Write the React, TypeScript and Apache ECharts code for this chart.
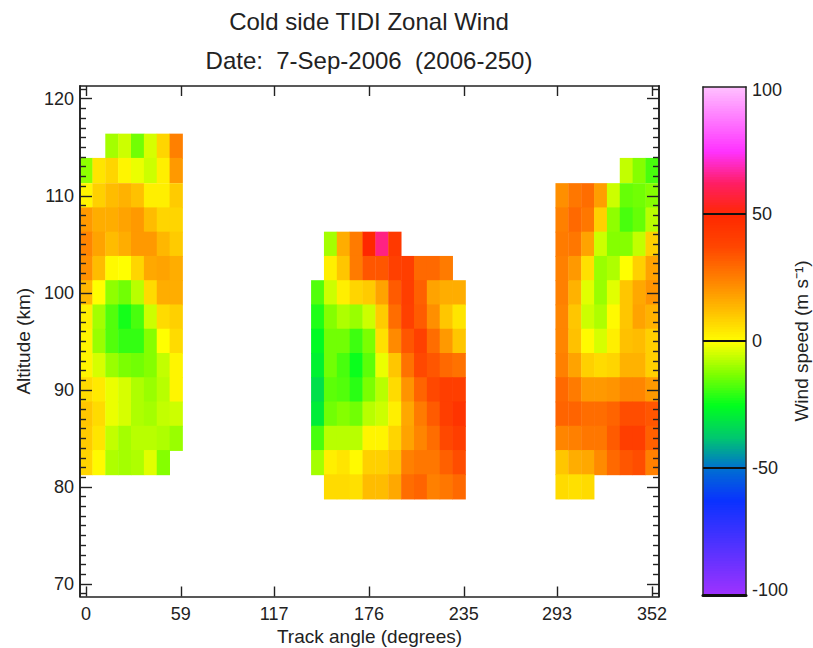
import React, { useEffect, useRef } from "react";
import * as echarts from "echarts";

const TITLE = "Cold side TIDI Zonal Wind";
const SUBTITLE = "Date:  7-Sep-2006  (2006-250)";
const X_NAME = "Track angle (degrees)";
const Y_NAME = "Altitude (km)";
const BAR_NAME = "Wind speed (m s⁻¹)";

const xTicks = [0, 59, 117, 176, 235, 293, 352];
const yMajorTicks = [70, 80, 90, 100, 110, 120];
const yMinorTicks = [
  69, 71, 72, 73, 74, 75, 76, 77, 78, 79, 81, 82, 83, 84, 85, 86, 87, 88, 89, 91, 92, 93, 94, 95, 96, 97, 98, 99,
  101, 102, 103, 104, 105, 106, 107, 108, 109, 111, 112, 113, 114, 115, 116, 117, 118, 119, 121,
];
const barTicks = [-100, -50, 0, 50, 100];

// Colour scale, evenly spaced from -100 to +100 (12.5 m/s apart)
const windColors = [
  "rgb(160,50,255)", "rgb(110,50,255)", "rgb(60,50,255)", "rgb(10,50,255)",
  "rgb(0,110,210)", "rgb(0,200,110)", "rgb(0,255,30)", "rgb(128,255,0)",
  "rgb(255,255,0)", "rgb(255,190,0)", "rgb(255,128,0)", "rgb(255,70,0)",
  "rgb(255,40,0)", "rgb(255,30,100)", "rgb(255,50,255)", "rgb(255,120,255)", "rgb(255,190,255)",
];

// Altitudes of the grid rows (km), top row first
const leftAltitudes = [115.1, 112.6, 110, 107.5, 105, 102.5, 100, 97.5, 95, 92.5, 90, 87.5, 85, 82.5];
const leftAngles = [0, 8, 16, 24, 32, 40, 48, 56];
const leftWind = [
  [null, null, -9, -5, -14, -4, 8, 25],
  [-11, 5, 8, 2, -2, -5, 3, 20],
  [2, 9, 13, 15, 12, 3, 3, 10],
  [20, 16, 16, 18, 20, 13, 8, 8],
  [24, 18, 13, 16, 20, 20, 14, 10],
  [22, 13, 1, 0, 8, 17, 18, 16],
  [14, 0, -11, -14, -7, 7, 16, 16],
  [3, -9, -17, -23, -18, -5, 7, 9],
  [2, -10, -17, -20, -20, -12, 0, 7],
  [2, -4, -10, -13, -14, -12, -6, 2],
  [7, 4, -2, -4, -8, -10, -7, 2],
  [11, 7, -2, -4, -8, -9, -6, -5],
  [10, 5, -6, -9, -7, -7, -8, -10],
  [8, 1, -8, -9, -8, -3, -12, null],
];

const centreAltitudes = [105, 102.5, 100, 97.5, 95, 92.5, 90, 87.5, 85, 82.5, 80];
const centreAngles = [144, 152, 160, 168, 176, 184, 192, 200, 208, 216, 224, 232];
const centreWind = [
  [null, -9, 16, 26, 50, 65, 43, null, null, null, null, null],
  [null, 3, 11, 26, 34, 34, 40, 41, 30, 30, 26, null],
  [-17, -5, 3, 8, 10, 18, 33, 41, 32, 18, 16, 16],
  [-22, -12, -8, -10, -5, 10, 29, 40, 33, 22, 11, 5],
  [-26, -14, -14, -19, -13, 6, 23, 34, 40, 29, 20, 11],
  [-28, -14, -18, -24, -16, -2, 11, 28, 37, 34, 30, 28],
  [-32, -16, -17, -21, -13, -7, 7, 21, 31, 37, 41, 41],
  [-29, -14, -12, -14, -7, -5, 3, 17, 26, 33, 41, 45],
  [-18, -7, -7, -7, 2, 2, 8, 18, 24, 29, 37, 41],
  [-9, 3, 5, 1, 9, 9, 12, 25, 27, 27, 32, 36],
  [null, 7, 7, 6, 13, 13, 17, 29, 31, 25, 27, 30],
];

const rightAltitudes = [112.6, 110, 107.5, 105, 102.5, 100, 97.5, 95, 92.5, 90, 87.5, 85, 82.5, 80];
const rightAngles = [296, 304, 312, 320, 328, 336, 344, 352];
const rightWind = [
  [null, null, null, null, null, -6, -12, -18],
  [22, 27, 29, 19, -5, -15, -14, -12],
  [25, 30, 27, 9, -11, -18, -15, -7],
  [26, 27, 18, -5, -12, -12, -6, 9],
  [25, 20, 6, -10, -8, 0, 9, 18],
  [25, 15, -3, -10, -3, 11, 17, 21],
  [24, 11, -5, -8, 1, 11, 18, 15],
  [24, 12, 1, -4, 3, 12, 13, 9],
  [25, 18, 9, 7, 8, 15, 15, 9],
  [30, 26, 20, 20, 21, 24, 24, 20],
  [31, 31, 29, 29, 31, 36, 36, 34],
  [24, 25, 27, 27, 33, 41, 41, 32],
  [11, 16, 17, 23, 30, 34, 36, 25],
  [7, 6, 7, null, null, null, null, null],
];

const barLevels: number[] = [];
for (let v = -100; v < 100; v += 1) barLevels.push(v);

const FONT = "'Liberation Sans', Arial, sans-serif";
const INK = "#222";
const AXIS_LINE = { show: true, onZero: false, lineStyle: { color: INK, width: 1.6 } };

function cells(altitudes: number[], angles: number[], wind: (number | null)[][]) {
  const out: number[][] = [];
  wind.forEach((row, r) => {
    row.forEach((v, c) => {
      if (v !== null) out.push([angles[c], altitudes[r], v]);
    });
  });
  return out;
}

function renderCell(_: any, api: any) {
  const x = api.value(0);
  const y = api.value(1);
  const a = api.coord([x - 4, y + 1.3]);
  const b = api.coord([x + 4, y - 1.25]);
  return {
    type: "rect",
    shape: { x: a[0], y: a[1], width: b[0] - a[0] + 0.4, height: b[1] - a[1] + 0.4 },
    style: { fill: api.visual("color"), stroke: null },
  };
}

function renderBar(_: any, api: any) {
  const v = api.value(1);
  const a = api.coord([0, v + 1]);
  const b = api.coord([1, v]);
  return {
    type: "rect",
    shape: { x: a[0], y: a[1], width: b[0] - a[0], height: b[1] - a[1] + 1.2 },
    style: { fill: api.visual("color"), stroke: null },
  };
}

export default function App() {
  const ref = useRef<HTMLDivElement>(null);
  useEffect(() => {
    if (!ref.current) return;
    const chart = echarts.init(ref.current, undefined, { renderer: "svg" });
    const xRange = { min: -3.73, max: 356.4 };
    const yRange = { min: 68.71, max: 121.31 };
    const windData = [
      ...cells(leftAltitudes, leftAngles, leftWind),
      ...cells(centreAltitudes, centreAngles, centreWind),
      ...cells(rightAltitudes, rightAngles, rightWind),
    ];
    const yBase = { type: "value", gridIndex: 0, ...yRange, splitLine: { show: false }, z: 5, axisLine: AXIS_LINE };
    const barY = { type: "value", gridIndex: 1, min: -100, max: 100, splitLine: { show: false }, z: 5 };
    const barX = {
      type: "value", gridIndex: 1, min: 0, max: 1, splitLine: { show: false }, z: 5,
      axisTick: { show: false }, axisLabel: { show: false },
    };
    chart.setOption({
      animation: false,
      backgroundColor: "#fff",
      textStyle: { fontFamily: FONT },
      title: [
        {
          text: TITLE, left: 364, top: 4, textAlign: "center",
          textStyle: { fontFamily: FONT, fontSize: 24, fontWeight: "normal", color: INK },
        },
        {
          text: SUBTITLE, left: 364, top: 43, textAlign: "center",
          textStyle: { fontFamily: FONT, fontSize: 24, fontWeight: "normal", color: INK },
        },
      ],
      grid: [
        { left: 80, top: 86, width: 579, height: 510.5, outerBoundsMode: "none" },
        { left: 703, top: 87, width: 43, height: 508, outerBoundsMode: "none" },
      ],
      visualMap: {
        show: false, type: "continuous", min: -100, max: 100, dimension: 2,
        seriesIndex: [0, 1], inRange: { color: windColors },
      },
      xAxis: [
        {
          type: "value", gridIndex: 0, position: "bottom", ...xRange, splitLine: { show: false }, z: 5,
          axisLine: AXIS_LINE,
          axisTick: { show: true, inside: true, length: 10, customValues: xTicks, lineStyle: { color: INK, width: 1.4 } },
          axisLabel: { show: true, customValues: xTicks, margin: 8, fontSize: 18, color: INK, fontFamily: FONT, hideOverlap: false },
          name: X_NAME, nameLocation: "middle", nameGap: 28,
          nameTextStyle: { fontSize: 19, color: INK, fontFamily: FONT },
        },
        {
          type: "value", gridIndex: 0, position: "top", ...xRange, splitLine: { show: false }, z: 5,
          axisLine: AXIS_LINE,
          axisTick: { show: true, inside: true, length: 10, customValues: xTicks, lineStyle: { color: INK, width: 1.4 } },
          axisLabel: { show: false },
        },
        { ...barX, position: "bottom", axisLine: { show: true, onZero: false, lineStyle: { color: "#111", width: 3 } } },
        { ...barX, position: "top", axisLine: { show: true, onZero: false, lineStyle: { color: "#222", width: 1.6 } } },
      ],
      yAxis: [
        {
          ...yBase, position: "left",
          axisTick: { show: true, inside: true, length: 12, customValues: yMajorTicks, lineStyle: { color: INK, width: 1.4 } },
          axisLabel: { show: true, customValues: yMajorTicks, margin: 6, fontSize: 18, color: INK, fontFamily: FONT },
          name: Y_NAME, nameLocation: "middle", nameRotate: 90, nameGap: 47,
          nameTextStyle: { fontSize: 19, color: INK, fontFamily: FONT },
        },
        {
          ...yBase, position: "left",
          axisTick: { show: true, inside: true, length: 6, customValues: yMinorTicks, lineStyle: { color: INK, width: 1.4 } },
          axisLabel: { show: false },
        },
        {
          ...yBase, position: "right",
          axisTick: { show: true, inside: true, length: 12, customValues: yMajorTicks, lineStyle: { color: INK, width: 1.4 } },
          axisLabel: { show: false },
        },
        {
          ...yBase, position: "right",
          axisTick: { show: true, inside: true, length: 6, customValues: yMinorTicks, lineStyle: { color: INK, width: 1.4 } },
          axisLabel: { show: false },
        },
        {
          ...barY, position: "left",
          axisLine: { show: true, onZero: false, lineStyle: { color: "#333", width: 1.6 } },
          axisTick: { show: false },
          axisLabel: { show: false },
        },
        {
          ...barY, position: "right",
          axisLine: { show: true, onZero: false, lineStyle: { color: "#333", width: 1.6 } },
          axisTick: { show: true, inside: true, length: 43, customValues: [-50, 0, 50], lineStyle: { color: "#111", width: 2 } },
          axisLabel: {
            show: true, customValues: barTicks, margin: 6, fontSize: 18, color: INK, fontFamily: FONT,
            formatter: (v: number) => (v === 100 ? `{top|${v}}` : v === -100 ? `{bot|${v}}` : `${v}`),
            rich: {
              top: { fontSize: 18, color: INK, fontFamily: FONT, padding: [6, 0, 0, 0] },
              bot: { fontSize: 18, color: INK, fontFamily: FONT, padding: [0, 0, 10, 0] },
            },
          },
          name: BAR_NAME, nameLocation: "middle", nameRotate: 90, nameGap: 44,
          nameTextStyle: { fontSize: 19, color: INK, fontFamily: FONT },
        },
      ],
      series: [
        {
          type: "custom", name: "Zonal wind", coordinateSystem: "cartesian2d", xAxisIndex: 0, yAxisIndex: 0,
          renderItem: renderCell, data: windData, encode: { x: 0, y: 1 }, z: 1, silent: true,
        },
        {
          type: "custom", name: "Colour bar", coordinateSystem: "cartesian2d", xAxisIndex: 2, yAxisIndex: 4,
          renderItem: renderBar, data: barLevels.map((v) => [0, v, v + 0.5]), encode: { x: 0, y: 1 }, z: 1, silent: true,
        },
      ],
    });
    return () => chart.dispose();
  }, []);
  return <div ref={ref} style={{ position: "absolute", left: 0, top: 0, width: 813, height: 648 }} />;
}
